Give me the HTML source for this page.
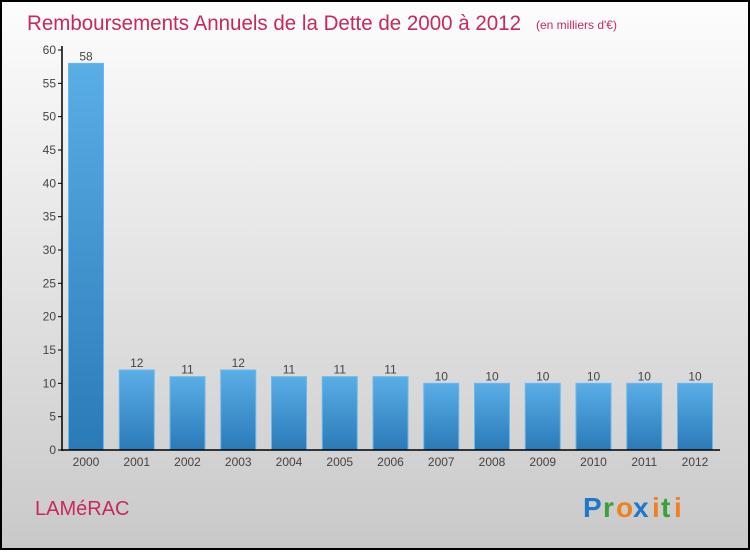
<!DOCTYPE html>
<html><head><meta charset="utf-8"><style>
html,body{margin:0;padding:0}
body{width:750px;height:550px;overflow:hidden;font-family:"Liberation Sans",sans-serif}
</style></head><body>
<svg id="chart" width="750" height="550" xmlns="http://www.w3.org/2000/svg">
<defs>
<linearGradient id="bg" x1="0" y1="0" x2="0" y2="1"><stop offset="0" stop-color="#fdfdfd"/><stop offset="1" stop-color="#c9c9c9"/></linearGradient>
<linearGradient id="bar" x1="0" y1="0" x2="0" y2="1"><stop offset="0" stop-color="#5aaee6"/><stop offset="1" stop-color="#2a7ab8"/></linearGradient>
</defs>
<rect x="1" y="1" width="748" height="548" fill="url(#bg)" stroke="#000" stroke-width="2"/>
<text x="27" y="30" font-size="21" fill="#c8285a" textLength="494" lengthAdjust="spacingAndGlyphs">Remboursements Annuels de la Dette de 2000 à 2012</text>
<text x="536" y="29" font-size="12" fill="#c8285a">(en milliers d'€)</text>
<g id="plot"></g>
<text x="35" y="515" font-size="20" fill="#c8285a">LAMéRAC</text>
<g font-size="28" font-weight="bold" font-family="'Liberation Sans',sans-serif">
<text x="583" y="517" fill="#1f78c8">P</text><text x="603" y="517" fill="#3aa03a">r</text><text x="616" y="517" fill="#f08020">o</text><text x="633" y="517" fill="#1f78c8">x</text><text x="652" y="517" fill="#f08020">i</text><text x="661" y="517" fill="#3aa03a">t</text><text x="674" y="517" fill="#f08020">i</text>
</g>
</svg>
<script>
const categories=["2000","2001","2002","2003","2004","2005","2006","2007","2008","2009","2010","2011","2012"];
const values=[58,12,11,12,11,11,11,10,10,10,10,10,10];
const yTicks=[0,5,10,15,20,25,30,35,40,45,50,55,60];
const NS="http://www.w3.org/2000/svg";
const g=document.getElementById("plot");
const y0=450,yTop=50,yMax=60,x0=62,step=50.75,first=86,bw=35;
const yS=v=>y0-(v/yMax)*(y0-yTop);
const xS=i=>first+i*step;
function mk(t,a){const e=document.createElementNS(NS,t);for(const k in a)e.setAttribute(k,a[k]);g.appendChild(e);return e;}
yTicks.forEach(t=>{
 const l=mk("line",{x1:x0-4,x2:x0,y1:yS(t),y2:yS(t),stroke:"#000"});
 
 
 const tx=mk("text",{x:x0-6,y:yS(t)+4,"font-size":12,fill:"#444","text-anchor":"end"});
 tx.textContent=t;
 
 
});
values.forEach((v,i)=>{
 const r=mk("rect",{x:xS(i)-bw/2,y:yS(v),width:bw,height:y0-yS(v),fill:"url(#bar)",stroke:"#6bb8ec","stroke-width":1});
 
 
 const vl=mk("text",{x:xS(i),y:yS(v)-3,"font-size":12,fill:"#444","text-anchor":"middle"});
 vl.textContent=v;
 
 
 const cl=mk("text",{x:xS(i),y:y0+16,"font-size":12,fill:"#444","text-anchor":"middle"});
 cl.textContent=categories[i];
 
 
});
const ya=mk("line",{x1:x0,x2:x0,y1:yTop-4,y2:y0+1,stroke:"#000","stroke-width":1.5});


const xa=mk("line",{x1:x0,x2:720,y1:y0,y2:y0,stroke:"#000","stroke-width":1.5});


</script>
</body></html>
